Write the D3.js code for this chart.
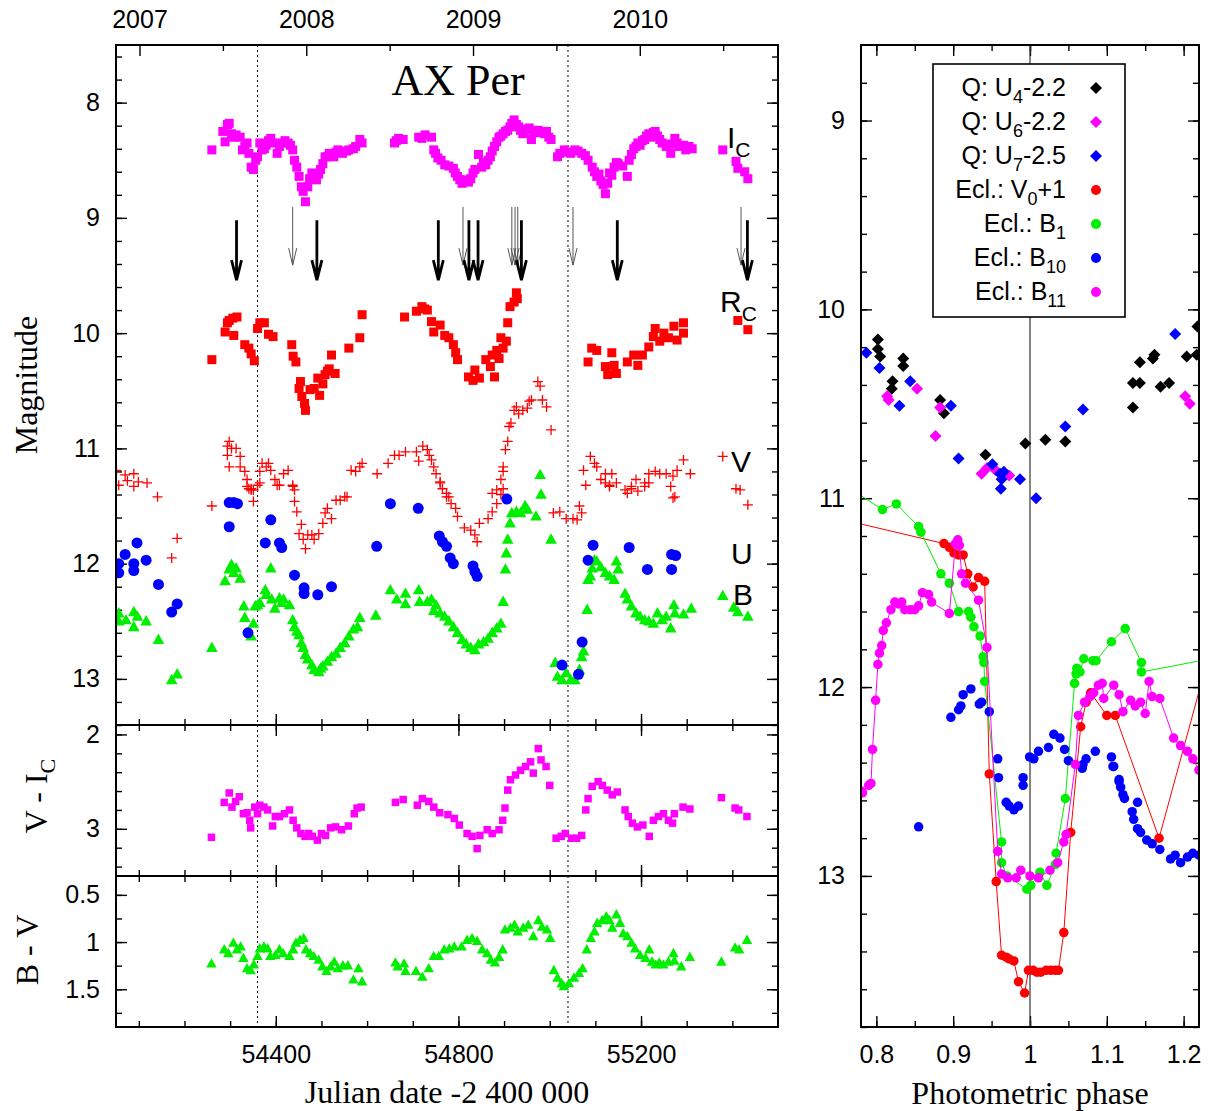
<!DOCTYPE html>
<html>
<head>
<meta charset="utf-8">
<script src="https://cdn.jsdelivr.net/npm/d3@7"></script>
<style>
body { margin: 0; background: #fff; }
</style>
</head>
<body>
<script>
const W = 1214, H = 1111;
const SANS = '"Liberation Sans", Arial, sans-serif';
const SERIF = '"Liberation Serif", "Times New Roman", serif';

// ---- light curves [JD-2400000, value] ----
const icData = [
  [54260,8.41],[54284,8.25],[54289,8.34],[54294,8.19],[54298,8.18],[54303,8.27],[54308,8.30],[54313,8.28],[54322,8.30],[54327,8.41],[54332,8.38],[54337,8.35],[54341,8.44],[54346,8.56],[54351,8.58],[54356,8.50],[54360,8.47],[54365,8.35],[54370,8.41],[54375,8.40],[54379,8.37],[54384,8.33],[54389,8.31],[54394,8.35],[54403,8.44],[54408,8.38],[54413,8.35],[54420,8.33],[54427,8.35],[54432,8.37],[54437,8.41],[54441,8.50],[54446,8.56],[54451,8.64],[54456,8.73],[54460,8.77],[54465,8.86],[54470,8.73],[54474,8.66],[54479,8.61],[54484,8.64],[54489,8.67],[54494,8.62],[54498,8.58],[54503,8.53],[54508,8.47],[54513,8.47],[54517,8.44],[54522,8.45],[54527,8.47],[54532,8.43],[54536,8.41],[54546,8.44],[54555,8.42],[54560,8.41],[54570,8.40],[54575,8.38],[54584,8.32],[54589,8.35],
  [54660,8.35],[54664,8.33],[54669,8.31],[54679,8.32],[54713,8.30],[54720,8.31],[54727,8.28],[54741,8.30],[54746,8.41],[54750,8.44],[54755,8.48],[54762,8.50],[54770,8.54],[54779,8.55],[54789,8.57],[54793,8.61],[54798,8.64],[54803,8.67],[54808,8.70],[54812,8.68],[54817,8.67],[54822,8.69],[54827,8.66],[54832,8.61],[54836,8.58],[54844,8.45],[54851,8.56],[54855,8.52],[54860,8.54],[54865,8.50],[54870,8.47],[54874,8.42],[54879,8.38],[54884,8.34],[54889,8.30],[54893,8.29],[54898,8.27],[54903,8.25],[54908,8.24],[54913,8.21],[54917,8.18],[54922,8.15],[54927,8.19],[54932,8.21],[54936,8.24],[54941,8.27],[54946,8.23],[54951,8.24],[54955,8.22],[54960,8.32],[54965,8.26],[54974,8.24],[54979,8.26],[54989,8.27],[54993,8.25],[54998,8.30],[55003,8.32],
  [55017,8.47],[55022,8.44],[55032,8.41],[55040,8.43],[55046,8.44],[55055,8.41],[55062,8.42],[55070,8.44],[55078,8.46],[55084,8.50],[55093,8.56],[55098,8.60],[55103,8.64],[55108,8.62],[55112,8.68],[55117,8.71],[55122,8.79],[55127,8.70],[55131,8.61],[55136,8.63],[55141,8.56],[55146,8.52],[55150,8.53],[55160,8.55],[55170,8.64],[55174,8.50],[55179,8.45],[55184,8.40],[55189,8.38],[55193,8.35],[55198,8.37],[55203,8.33],[55208,8.32],[55212,8.29],[55217,8.27],[55222,8.30],[55227,8.26],[55231,8.25],[55236,8.29],[55241,8.32],[55246,8.35],[55255,8.38],[55260,8.36],[55265,8.44],[55270,8.36],[55274,8.31],[55279,8.35],[55284,8.38],[55293,8.37],[55298,8.41],[55305,8.38],[55312,8.40],
  [55379,8.41],[55408,8.51],[55412,8.57],[55427,8.60],[55434,8.66]
];
const rcData = [
  [54260,10.23],[54289,9.99],[54294,9.91],[54298,9.89],[54306,9.87],[54308,10.02],[54315,9.86],[54332,10.10],[54341,10.13],[54346,10.18],[54353,10.24],[54360,9.96],[54365,9.91],[54375,9.91],[54384,10.01],[54394,10.03],[54435,10.10],[54438,10.20],[54444,10.25],[54454,10.42],[54451,10.48],[54457,10.55],[54463,10.61],[54465,10.67],[54475,10.49],[54484,10.48],[54492,10.39],[54496,10.54],[54503,10.44],[54508,10.36],[54513,10.33],[54517,10.31],[54522,10.19],[54530,10.35],[54560,10.13],[54584,10.04],[54589,9.84],
  [54682,9.86],[54708,9.81],[54720,9.77],[54726,9.79],[54732,9.80],[54741,9.90],[54746,9.99],[54760,9.93],[54770,10.02],[54779,10.04],[54789,10.10],[54794,10.17],[54798,10.23],[54822,10.38],[54832,10.41],[54836,10.32],[54846,10.39],[54860,10.23],[54870,10.29],[54874,10.19],[54879,10.38],[54884,10.15],[54889,10.22],[54893,10.04],[54898,10.13],[54905,10.07],[54908,9.91],[54913,9.77],[54922,9.73],[54927,9.65],[54929,9.70],
  [55084,10.25],[55092,10.13],[55103,10.15],[55122,10.29],[55127,10.36],[55136,10.17],[55141,10.28],[55146,10.35],[55170,10.25],[55184,10.19],[55193,10.28],[55203,10.19],[55217,10.12],[55227,10.03],[55231,9.96],[55241,10.07],[55250,10.00],[55260,10.04],[55272,9.94],[55279,10.06],[55293,9.91],[55293,10.00],
  [55412,9.89],[55434,9.97]
];
const vData = [
  [54051,11.19],[54056,11.32],[54070,11.23],[54075,11.28],[54089,11.22],[54089,11.33],[54099,11.29],[54118,11.30],[54141,11.42],[54172,11.95],[54184,11.78],[54260,11.50],
  [54294,10.98],[54298,10.94],[54303,11.00],[54313,11.00],[54322,11.07],[54294,11.06],[54298,11.16],[54322,11.16],[54332,11.20],[54337,11.27],[54341,11.35],[54346,11.35],[54351,11.36],[54360,11.32],[54365,11.20],[54370,11.13],[54379,11.16],[54384,11.13],[54389,11.19],[54398,11.27],[54408,11.32],[54417,11.22],[54427,11.19],[54437,11.32],[54441,11.36],
  [54337,11.33],[54346,11.36],[54351,11.46],[54365,11.30],[54403,11.32],[54437,11.33],[54441,11.46],[54446,11.55],[54456,11.66],[54451,11.74],[54460,11.79],[54465,11.87],[54470,11.75],[54479,11.75],[54484,11.79],[54494,11.74],[54503,11.65],[54508,11.56],[54513,11.52],[54522,11.61],[54532,11.45],[54541,11.45],[54556,11.42],
  [54551,11.42],[54565,11.19],[54575,11.20],[54584,11.16],[54589,11.13],[54622,11.22],[54646,11.13],[54660,11.06],[54670,11.06],[54684,11.03],[54708,11.03],[54713,11.11],[54722,10.98],[54732,11.01],[54736,11.06],[54741,11.10],[54746,11.16],[54751,11.22],[54760,11.29],[54765,11.35],[54774,11.39],[54779,11.42],
  [54760,11.30],[54774,11.42],[54784,11.48],[54794,11.52],[54798,11.59],[54813,11.69],[54827,11.71],[54836,11.75],[54841,11.81],[54846,11.65],[54865,11.61],[54874,11.55],[54884,11.48],[54893,11.40],[54898,11.35],
  [54874,11.39],[54884,11.36],[54893,11.27],[54898,11.20],[54898,11.16],[54903,11.01],[54908,10.94],[54911,10.81],[54915,10.78],[54922,10.67],[54927,10.64],[54932,10.70],[54941,10.67],[54951,10.65],[54955,10.59],[54960,10.58],[54974,10.42],[54979,10.46],[54984,10.58],[54993,10.64],[55003,10.84],
  [55008,11.56],[55022,11.55],[55036,11.61],[55051,11.61],[55060,11.62],[55065,11.50],[55070,11.56],[55079,11.32],
  [55074,11.19],[55089,11.07],[55098,11.13],[55103,11.16],[55112,11.27],[55122,11.22],[55131,11.33],[55136,11.22],[55146,11.30],[55165,11.36],[55179,11.33],[55189,11.27],[55208,11.30],[55217,11.22],[55231,11.20],[55241,11.22],[55255,11.22],[55270,11.24],[55279,11.19],[55293,11.10],[55308,11.22],[55274,11.42],
  [55122,11.30],[55131,11.32],[55170,11.39],[55179,11.35],[55193,11.37],[55208,11.33],[55217,11.30],[55265,11.33],[55270,11.43],
  [55379,11.07],[55408,11.35],[55417,11.36],[55434,11.49]
];
const uData = [
  [54056,12.00],[54056,12.08],[54070,11.92],[54089,12.00],[54089,12.06],[54096,11.82],[54116,11.97],[54143,12.18],[54172,12.42],[54184,12.35],
  [54298,11.68],[54298,11.47],[54308,11.47],[54316,11.48],[54339,12.60],
  [54377,11.82],[54389,11.62],[54408,11.82],[54413,11.86],[54441,12.10],[54462,12.21],[54462,12.26],[54492,12.27],[54522,12.20],
  [54621,11.85],[54651,11.48],[54712,11.52],[54758,11.76],[54765,11.81],[54774,11.85],[54782,11.95],[54789,12.00],[54832,12.02],[54836,12.07],[54841,12.11],[54906,11.44],
  [55027,12.88],[55063,12.96],[55071,12.68],[55084,11.97],[55095,11.84],[55174,11.86],[55214,12.05],[55267,12.05],[55267,11.92],[55276,11.93]
];
const bData = [
  [54056,12.43],[54056,12.50],[54072,12.49],[54089,12.42],[54089,12.55],[54097,12.46],[54116,12.50],[54143,12.66],[54172,13.01],[54184,12.96],[54260,12.73],
  [54289,12.15],[54298,12.05],[54303,12.01],[54308,12.08],[54313,12.04],[54322,12.13],[54330,12.37],[54332,12.47],[54346,12.63],[54351,12.52],[54355,12.37],[54360,12.36],[54365,12.34],[54377,12.23],[54379,12.27],[54389,12.04],[54391,12.31],[54398,12.39],[54408,12.30],[54413,12.34],[54417,12.31],[54430,12.36],[54437,12.49],[54441,12.55],[54446,12.59],[54451,12.62],[54456,12.69],[54460,12.73],[54465,12.79],[54470,12.83],[54479,12.88],[54484,12.92],[54494,12.94],[54498,12.91],[54503,12.89],[54513,12.85],[54522,12.81],[54532,12.78],[54541,12.73],[54551,12.69],[54560,12.63],[54570,12.57],[54579,12.55],[54584,12.47],
  [54619,12.45],[54651,12.23],[54665,12.31],[54684,12.26],[54684,12.35],[54713,12.23],[54715,12.33],[54732,12.33],[54741,12.31],[54746,12.41],[54751,12.36],[54760,12.43],[54770,12.46],[54779,12.50],[54789,12.55],[54798,12.60],[54808,12.66],[54817,12.70],[54827,12.73],[54836,12.75],[54844,12.70],[54855,12.68],[54865,12.65],[54874,12.60],[54884,12.56],[54893,12.52],[54898,12.33],[54903,12.05],[54905,11.91],[54908,11.79],[54913,11.65],[54917,11.56],[54927,11.55],[54936,11.56],[54946,11.50],[54951,11.53],[54970,11.59],[54979,11.23],[54981,11.40],[55003,11.79],
  [55012,12.86],[55017,12.98],[55027,13.01],[55036,12.95],[55046,13.01],[55055,13.01],[55065,12.92],[55070,12.81],[55074,12.76],
  [55082,12.40],[55084,12.14],[55089,12.11],[55093,12.04],[55098,11.97],[55103,11.98],[55112,12.03],[55122,12.08],[55131,12.11],[55141,12.14],[55146,11.98],[55150,12.05],[55165,12.26],[55170,12.31],[55179,12.37],[55189,12.43],[55198,12.46],[55208,12.49],[55217,12.50],[55227,12.52],[55236,12.43],[55246,12.49],[55255,12.46],[55265,12.56],[55272,12.36],[55274,12.43],[55293,12.44],[55310,12.39],
  [55379,12.28],[55403,12.38],[55412,12.42],[55434,12.46]
];
const viData = [
  [54259,3.09],[54287,2.72],[54298,2.62],[54304,2.77],[54312,2.71],[54320,2.66],[54329,2.84],[54337,2.83],[54343,2.91],[54345,2.99],[54354,2.77],[54360,2.84],[54365,2.75],[54374,2.77],[54382,2.80],[54393,2.97],[54399,2.87],[54408,2.87],[54419,2.84],[54430,2.80],[54438,2.91],[54446,2.99],[54455,3.05],[54464,3.08],[54472,3.05],[54480,3.08],[54491,3.12],[54500,3.05],[54509,3.07],[54520,2.99],[54531,2.98],[54544,3.01],[54559,2.97],[54572,2.84],[54578,2.78],[54587,2.77],
  [54662,2.72],[54679,2.69],[54710,2.75],[54721,2.68],[54735,2.71],[54746,2.77],[54759,2.83],[54777,2.85],[54791,2.89],[54802,2.96],[54819,3.05],[54830,3.08],[54841,3.21],[54847,3.07],[54863,3.01],[54874,3.05],[54889,3.01],[54897,2.91],[54902,2.78],[54908,2.59],[54914,2.48],[54925,2.43],[54936,2.38],[54947,2.34],[54958,2.29],[54964,2.41],[54975,2.15],[54981,2.27],[54992,2.34],[55000,2.54],
  [55014,3.10],[55025,3.08],[55034,3.05],[55048,3.10],[55059,3.10],[55070,3.07],[55079,2.80],[55084,2.68],[55093,2.55],[55106,2.50],[55115,2.54],[55126,2.59],[55137,2.64],[55148,2.61],[55165,2.80],[55172,2.87],[55181,2.94],[55192,2.98],[55204,2.96],[55218,3.08],[55227,2.91],[55238,2.87],[55249,2.84],[55260,2.91],[55269,2.94],[55273,2.84],[55292,2.77],[55307,2.79],
  [55376,2.67],[55406,2.78],[55414,2.80],[55432,2.87]
];
const bvData = [
  [54259,1.23],[54287,1.08],[54296,1.12],[54307,1.01],[54315,1.08],[54323,1.05],[54329,1.17],[54337,1.28],[54345,1.30],[54352,1.24],[54360,1.15],[54365,1.07],[54374,1.05],[54382,1.07],[54388,1.15],[54399,1.14],[54408,1.08],[54416,1.12],[54430,1.15],[54438,1.08],[54444,1.01],[54453,0.98],[54461,0.96],[54466,1.08],[54475,1.12],[54483,1.15],[54494,1.19],[54502,1.26],[54511,1.31],[54520,1.26],[54528,1.21],[54536,1.28],[54547,1.25],[54558,1.25],[54570,1.40],[54581,1.28],[54589,1.42],
  [54662,1.22],[54667,1.26],[54681,1.23],[54684,1.31],[54707,1.31],[54721,1.37],[54735,1.28],[54746,1.15],[54757,1.15],[54769,1.08],[54780,1.07],[54791,1.05],[54807,1.05],[54819,0.98],[54830,0.96],[54841,0.99],[54852,1.08],[54863,1.12],[54871,1.19],[54880,1.22],[54889,1.16],[54897,1.08],[54902,0.87],[54914,0.85],[54923,0.82],[54930,0.89],[54942,0.85],[54953,0.82],[54964,0.94],[54975,0.77],[54983,0.84],[54994,0.87],[55001,0.96],
  [55009,1.30],[55017,1.38],[55026,1.44],[55031,1.47],[55042,1.44],[55053,1.38],[55064,1.33],[55072,1.28],[55081,1.08],[55090,0.96],[55098,0.89],[55104,0.80],[55115,0.77],[55124,0.73],[55131,0.77],[55137,0.85],[55146,0.71],[55154,0.80],[55161,0.91],[55170,0.94],[55179,1.01],[55187,1.07],[55198,1.14],[55210,1.17],[55218,1.08],[55224,1.21],[55232,1.24],[55240,1.22],[55249,1.24],[55260,1.21],[55271,1.12],[55273,1.20],[55288,1.26],[55307,1.16],
  [55376,1.21],[55406,1.06],[55415,1.08],[55432,0.98]
];
const thickArrowJD = [54314, 54490, 54756, 54823, 54843, 54938, 55148, 55433];
const thinArrowJD = [54437, 54810, 54917, 54924, 54930, 55051, 55419];
const eclipseJD = [54360, 55040];
const yearLabels = [2007, 2008, 2009, 2010];

// ---- phased data [phase, magnitude] ----
const qU4 = [[0.802,10.16],[0.802,10.21],[0.805,10.25],[0.821,10.38],[0.820,10.42],[0.835,10.26],[0.835,10.30],[0.883,10.48],[0.888,10.55],[0.942,10.77],[0.994,10.71],[1.020,10.69],[1.046,10.70],[1.134,10.52],[1.134,10.39],[1.143,10.28],[1.143,10.39],[1.160,10.26],[1.162,10.24],[1.170,10.41],[1.181,10.39],[1.204,10.25],[1.217,10.24],[1.218,10.09]];
const qU6 = [[0.814,10.46],[0.816,10.48],[0.853,10.42],[0.883,10.52],[0.877,10.67],[0.937,10.87],[0.944,10.84],[0.955,10.85],[0.973,10.88],[1.202,10.46],[1.208,10.50]];
const qU7 = [[0.787,10.23],[0.804,10.31],[0.830,10.51],[0.844,10.38],[0.897,10.51],[0.907,10.79],[0.951,10.82],[0.961,10.87],[0.963,10.90],[0.966,10.86],[0.962,10.95],[0.987,10.90],[1.008,11.00],[1.046,10.62],[1.069,10.53],[1.189,10.13]];
const eclV0 = [[0.70,11.06],[0.888,11.24],[0.895,11.26],[0.901,11.29],[0.907,11.30],[0.913,11.30],[0.919,11.40],[0.926,11.47],[0.933,11.42],[0.941,11.44],[0.947,12.46],[0.956,13.03],[0.963,13.42],[0.969,13.43],[0.973,13.44],[0.979,13.45],[0.985,13.56],[0.993,13.62],[0.998,13.50],[1.004,13.50],[1.009,13.51],[1.014,13.51],[1.021,13.50],[1.027,13.50],[1.033,13.50],[1.037,13.50],[1.044,13.30],[1.053,12.77],[1.066,12.21],[1.073,12.08],[1.079,12.03],[1.100,12.15],[1.111,12.15],[1.168,12.80],[1.235,11.80]];
const eclB1 = [[0.74,10.88],[0.808,11.06],[0.826,11.03],[0.855,11.15],[0.858,11.18],[0.884,11.40],[0.895,11.45],[0.907,11.60],[0.920,11.60],[0.923,11.63],[0.927,11.68],[0.935,11.73],[0.939,11.84],[0.940,11.87],[0.941,11.97],[0.963,12.82],[0.963,12.93],[0.970,13.00],[0.996,13.07],[1.001,13.05],[1.013,12.98],[1.022,13.05],[1.033,12.94],[1.034,12.88],[1.046,12.59],[1.058,11.98],[1.060,11.93],[1.061,11.90],[1.065,11.92],[1.070,11.85],[1.082,11.86],[1.086,11.86],[1.106,11.76],[1.124,11.69],[1.145,11.87],[1.145,11.92],[1.30,11.80]];
const eclB10 = [[0.855,12.74],[0.897,12.16],[0.907,12.12],[0.910,12.10],[0.913,12.04],[0.923,12.01],[0.934,12.09],[0.937,12.08],[0.947,12.13],[0.958,12.38],[0.959,12.48],[0.969,12.61],[0.973,12.63],[0.979,12.65],[0.985,12.63],[0.991,12.52],[0.991,12.48],[0.9995,12.37],[1.005,12.38],[1.011,12.34],[1.024,12.32],[1.031,12.25],[1.039,12.27],[1.045,12.33],[1.050,12.39],[1.068,12.43],[1.069,12.41],[1.073,12.38],[1.085,12.34],[1.106,12.37],[1.108,12.42],[1.109,12.42],[1.116,12.49],[1.116,12.50],[1.118,12.53],[1.121,12.57],[1.123,12.59],[1.133,12.66],[1.135,12.70],[1.140,12.61],[1.140,12.75],[1.144,12.77],[1.152,12.81],[1.159,12.83],[1.169,12.86],[1.183,12.91],[1.189,12.89],[1.196,12.93],[1.205,12.90],[1.212,12.88],[1.220,12.89]];
const eclB11 = [[0.780,12.55],[0.782,12.56],[0.790,12.52],[0.793,12.51],[0.795,12.33],[0.799,12.07],[0.802,11.88],[0.804,11.82],[0.807,11.78],[0.809,11.70],[0.813,11.66],[0.819,11.59],[0.824,11.55],[0.829,11.56],[0.833,11.55],[0.837,11.59],[0.844,11.59],[0.850,11.59],[0.855,11.57],[0.860,11.50],[0.868,11.51],[0.872,11.55],[0.895,11.61],[0.903,11.24],[0.906,11.22],[0.908,11.25],[0.911,11.40],[0.916,11.45],[0.933,11.54],[0.944,11.79],[0.958,12.87],[0.963,12.99],[0.971,13.01],[0.982,13.01],[0.988,12.97],[1.000,13.00],[1.011,13.01],[1.026,12.97],[1.036,12.93],[1.044,12.82],[1.047,12.78],[1.059,12.41],[1.063,12.15],[1.071,12.08],[1.078,12.05],[1.083,12.03],[1.089,11.99],[1.094,11.98],[1.096,12.06],[1.109,11.99],[1.116,12.04],[1.121,12.13],[1.131,12.07],[1.137,12.10],[1.144,12.08],[1.150,12.14],[1.155,11.97],[1.159,12.05],[1.169,12.06],[1.187,12.27],[1.196,12.31],[1.205,12.34],[1.212,12.38],[1.220,12.44]];

// ---- scales ----
const L = { x0: 116, x1: 778, m0: 45, m1: 725, c1: 876, c2: 1027 };
const R = { x0: 861, x1: 1199, y0: 45, y1: 1027 };
const jdToYear = jd => 2007 + (jd - 54101.5) / 365.25;

const x = d3.scaleLinear().domain([54050, 55500]).range([L.x0, L.x1]);
const xYear = d3.scaleLinear().domain([jdToYear(54050), jdToYear(55500)]).range([L.x0, L.x1]);
const yMag = d3.scaleLinear().domain([7.5, 13.4]).range([L.m0, L.m1]);
const yVI = d3.scaleLinear().domain([1.9, 3.5]).range([L.m1, L.c1]);
const yBV = d3.scaleLinear().domain([0.3, 1.9]).range([L.c1, L.c2]);
const xPh = d3.scaleLinear().domain([0.78, 1.22]).range([R.x0, R.x1]);
const yPh = d3.scaleLinear().domain([8.6, 13.8]).range([R.y0, R.y1]);

const svg = d3.select("body").append("svg")
  .attr("width", W).attr("height", H).style("display", "block");

const defs = svg.append("defs");
function clip(id, x0, y0, x1, y1) {
  defs.append("clipPath").attr("id", id).append("rect")
    .attr("x", x0).attr("y", y0).attr("width", x1 - x0).attr("height", y1 - y0);
  return svg.append("g").attr("clip-path", `url(#${id})`);
}

// ---- axes ----
function drawAxis(axisFn, scale, tx, ty, major, minor, fmt, pad) {
  const g = svg.append("g").attr("transform", `translate(${tx},${ty})`);
  g.append("g").call(axisFn(scale).tickValues(minor).tickSize(-6).tickFormat(""));
  g.append("g").call(axisFn(scale).tickValues(major).tickSize(-11)
    .tickPadding(pad || 0).tickFormat(fmt || ""));
  g.selectAll(".domain").remove();
  g.selectAll("line").attr("stroke", "#000").attr("stroke-width", 1.4);
  g.selectAll("text").attr("font-family", SANS).attr("font-size", 25).attr("fill", "#000");
  return g;
}
const num = d => String(d);
const jdMajor = [54400, 54800, 55200];
const jdMinor = d3.range(54100, 55500, 100);

// main panel
drawAxis(d3.axisLeft, yMag, L.x0, 0, [8, 9, 10, 11, 12, 13], d3.range(76, 135, 2).map(v => v / 10), num, 16);
drawAxis(d3.axisRight, yMag, L.x1, 0, [8, 9, 10, 11, 12, 13], d3.range(76, 135, 2).map(v => v / 10));
drawAxis(d3.axisTop, xYear, 0, L.m0, yearLabels, [2007.5, 2008.5, 2009.5, 2010.5], num, 17);
drawAxis(d3.axisBottom, x, 0, L.m1, jdMajor, jdMinor);
// V - Ic panel
drawAxis(d3.axisLeft, yVI, L.x0, 0, [2, 3], d3.range(20, 35, 2).map(v => v / 10), num, 16);
drawAxis(d3.axisRight, yVI, L.x1, 0, [2, 3], d3.range(20, 35, 2).map(v => v / 10));
drawAxis(d3.axisTop, x, 0, L.m1, jdMajor, jdMinor);
drawAxis(d3.axisBottom, x, 0, L.c1, jdMajor, jdMinor);
// B - V panel
drawAxis(d3.axisLeft, yBV, L.x0, 0, [0.5, 1, 1.5], [0.5, 0.75, 1, 1.25, 1.5, 1.75], num, 16);
drawAxis(d3.axisRight, yBV, L.x1, 0, [0.5, 1, 1.5], [0.5, 0.75, 1, 1.25, 1.5, 1.75]);
drawAxis(d3.axisTop, x, 0, L.c1, jdMajor, jdMinor);
drawAxis(d3.axisBottom, x, 0, L.c2, jdMajor, jdMinor, num, 18);
// phase panel
const phMajor = [0.8, 0.9, 1, 1.1, 1.2];
const phMinor = d3.range(16, 25).map(v => v / 20);
const pmMajor = [9, 10, 11, 12, 13];
const pmMinor = d3.range(44, 70).map(v => v / 5);
drawAxis(d3.axisLeft, yPh, R.x0, 0, pmMajor, pmMinor, num, 16);
drawAxis(d3.axisRight, yPh, R.x1, 0, pmMajor, pmMinor);
drawAxis(d3.axisBottom, xPh, 0, R.y1, phMajor, phMinor, num, 18);
drawAxis(d3.axisTop, xPh, 0, R.y0, phMajor, phMinor);

// ---- marker shapes ----
const shapes = {
  square: s => `M${-s/2},${-s/2}h${s}v${s}h${-s}Z`,
  tri: s => `M0,${-s*0.62}L${s*0.58},${s*0.42}L${-s*0.58},${s*0.42}Z`,
  plus: s => `M${-s/2},0H${s/2}M0,${-s/2}V${s/2}`,
  diamond: s => `M0,${-s/2}L${s/2},0L0,${s/2}L${-s/2},0Z`,
  circle: s => `M${-s/2},0A${s/2},${s/2} 0 1,0 ${s/2},0A${s/2},${s/2} 0 1,0 ${-s/2},0Z`
};
function marks(g, data, xs, ys, shape, size, color) {
  const stroke = shape === "plus";
  g.append("g").selectAll("path").data(data).join("path")
    .attr("transform", d => `translate(${xs(d[0])},${ys(d[1])})`)
    .attr("d", shapes[shape](size))
    .attr("fill", stroke ? "none" : color)
    .attr("stroke", stroke ? color : "none")
    .attr("stroke-width", stroke ? 1.3 : 0);
}

// ---- left panels ----
const gMain = clip("cMain", L.x0, L.m0, L.x1, L.m1);
const gVI = clip("cVI", L.x0, L.m1, L.x1, L.c1);
const gBV = clip("cBV", L.x0, L.c1, L.x1, L.c2);

// eclipse epochs
[[gMain, L.m0, L.m1], [gVI, L.m1, L.c1], [gBV, L.c1, L.c2]].forEach(([g, a, b]) => {
  g.selectAll(null).data(eclipseJD).join("line")
    .attr("x1", d => x(d)).attr("x2", d => x(d)).attr("y1", a).attr("y2", b)
    .attr("stroke", "#000").attr("stroke-width", 1).attr("stroke-dasharray", "2,3");
});

marks(gMain, icData, x, yMag, "square", 9, "#ff00ff");
marks(gMain, rcData, x, yMag, "square", 9, "#ff0000");
marks(gMain, vData, x, yMag, "plus", 10, "#ff0000");
marks(gMain, bData, x, yMag, "tri", 10, "#00ee00");
marks(gMain, uData, x, yMag, "circle", 11, "#0000ff");
marks(gVI, viData, x, yVI, "square", 7.5, "#ff00ff");
marks(gBV, bvData, x, yBV, "tri", 9, "#00ee00");

// arrows between Ic and Rc
function arrows(list, m0, m1, w, hl, hw, color) {
  gMain.append("g").selectAll("path").data(list).join("path")
    .attr("d", d => {
      const xx = x(d), a = yMag(m0), b = yMag(m1);
      return `M${xx},${a}V${b}M${xx - hw},${b - hl}L${xx},${b}L${xx + hw},${b - hl}`;
    })
    .attr("fill", "none").attr("stroke", color).attr("stroke-width", w);
}
arrows(thinArrowJD, 8.905, 9.41, 1, 17, 4, "#555");
arrows(thickArrowJD, 9.02, 9.54, 2.8, 20, 5, "#000");

// frames
[[L.m0, L.m1], [L.m1, L.c1], [L.c1, L.c2]].forEach(([a, b]) => {
  svg.append("rect").attr("x", L.x0).attr("y", a).attr("width", L.x1 - L.x0).attr("height", b - a)
    .attr("fill", "none").attr("stroke", "#000").attr("stroke-width", 2);
});

// band labels
function bandLabel(tx, ty, main, sub) {
  const t = svg.append("text").attr("x", tx).attr("y", ty)
    .attr("font-family", SANS).attr("font-size", 30).attr("fill", "#000").text(main);
  if (sub) t.append("tspan").attr("dy", 9).attr("font-size", 21).text(sub);
}
bandLabel(727, 148, "I", "C");
bandLabel(720, 312, "R", "C");
bandLabel(731, 472, "V");
bandLabel(731, 564, "U");
bandLabel(733, 605, "B");

svg.append("text").attr("x", 458).attr("y", 95).attr("text-anchor", "middle")
  .attr("font-family", SERIF).attr("font-size", 44).text("AX Per");

// ---- phase panel ----
const gPh = clip("cPh", R.x0, R.y0, R.x1, R.y1);
gPh.append("line").attr("x1", xPh(1)).attr("x2", xPh(1)).attr("y1", R.y0).attr("y2", R.y1)
  .attr("stroke", "#333").attr("stroke-width", 1.2);

marks(gPh, qU4, xPh, yPh, "diamond", 12, "#000");
marks(gPh, qU6, xPh, yPh, "diamond", 12, "#ff00ff");
marks(gPh, qU7, xPh, yPh, "diamond", 12, "#0000ff");

const line = d3.line().x(d => xPh(d[0])).y(d => yPh(d[1]));
function curve(data, color, withLine) {
  if (withLine) gPh.append("path").datum(data).attr("d", line)
    .attr("fill", "none").attr("stroke", color).attr("stroke-width", 1);
  marks(gPh, data, xPh, yPh, "circle", 9.5, color);
}
curve(eclV0, "#ff0000", true);
curve(eclB1, "#00ee00", true);
curve(eclB10, "#0000ff", false);
curve(eclB11, "#ff00ff", true);

svg.append("rect").attr("x", R.x0).attr("y", R.y0).attr("width", R.x1 - R.x0).attr("height", R.y1 - R.y0)
  .attr("fill", "none").attr("stroke", "#000").attr("stroke-width", 2);

// legend
const legendRows = [
  { t: ["Q: U", "4", "-2.2"], shape: "diamond", c: "#000" },
  { t: ["Q: U", "6", "-2.2"], shape: "diamond", c: "#ff00ff" },
  { t: ["Q: U", "7", "-2.5"], shape: "diamond", c: "#0000ff" },
  { t: ["Ecl.: V", "0", "+1"], shape: "circle", c: "#ff0000" },
  { t: ["Ecl.: B", "1", ""], shape: "circle", c: "#00ee00" },
  { t: ["Ecl.: B", "10", ""], shape: "circle", c: "#0000ff" },
  { t: ["Ecl.: B", "11", ""], shape: "circle", c: "#ff00ff" }
];
const lg = svg.append("g");
lg.append("rect").attr("x", 933).attr("y", 64).attr("width", 192).attr("height", 253)
  .attr("fill", "#fff").attr("stroke", "#000").attr("stroke-width", 1.6);
legendRows.forEach((r, i) => {
  const cy = 88 + i * 34;
  const t = lg.append("text").attr("x", 1066).attr("y", cy + 8).attr("text-anchor", "end")
    .attr("font-family", SANS).attr("font-size", 25).attr("fill", "#000").text(r.t[0]);
  t.append("tspan").attr("dy", 7).attr("font-size", 18).text(r.t[1]);
  if (r.t[2]) t.append("tspan").attr("dy", -7).attr("font-size", 25).text(r.t[2]);
  lg.append("path").attr("transform", `translate(1096,${cy})`)
    .attr("d", shapes[r.shape](r.shape === "diamond" ? 12 : 10)).attr("fill", r.c);
});

// ---- axis titles ----
function title(tx, ty, rot, main, sub) {
  const t = svg.append("text").attr("transform", `translate(${tx},${ty}) rotate(${rot})`)
    .attr("text-anchor", "middle").attr("font-family", SERIF).attr("font-size", 32).attr("fill", "#000").text(main);
  if (sub) t.append("tspan").attr("dy", 8).attr("font-size", 22).text(sub);
}
title(37, 385, -90, "Magnitude");
title(47, 796, -90, "V - I", "C");
title(38, 950, -90, "B - V");
title(447, 1103, 0, "Julian date -2 400 000");
title(1030, 1104, 0, "Photometric phase");
</script>
</body>
</html>
